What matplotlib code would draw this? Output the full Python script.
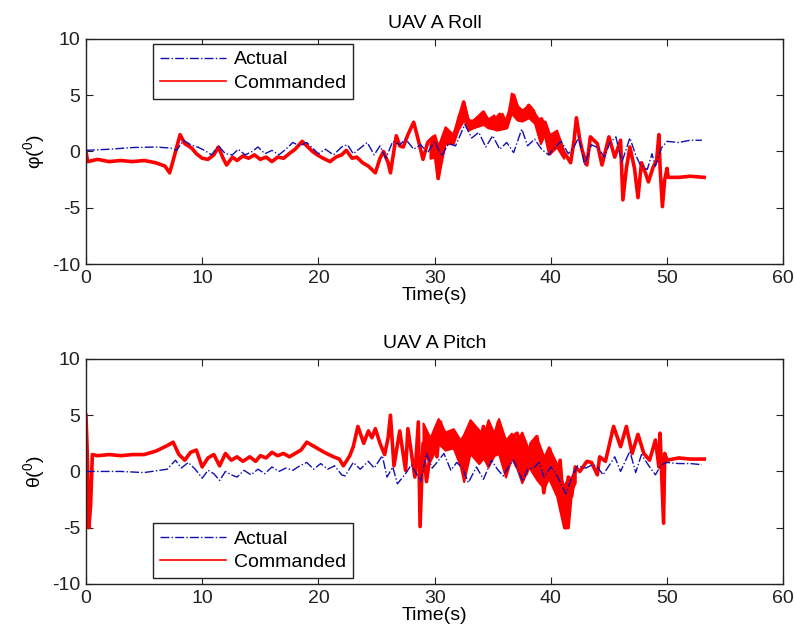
import numpy as np
import matplotlib
matplotlib.use('Agg')
import matplotlib.pyplot as plt

plt.rcParams['font.family'] = ['Liberation Sans', 'DejaVu Sans']
plt.rcParams['mathtext.fontset'] = 'custom'
plt.rcParams['mathtext.rm'] = 'Liberation Sans'
plt.rcParams['mathtext.default'] = 'regular'
plt.rcParams['axes.unicode_minus'] = False

# roll - commanded (t, deg)
roll_cmd_t = [0.0, 0.15, 1, 2, 3, 4, 5, 6, 6.8, 7.2, 7.5, 8.1, 8.5, 9.1, 9.5, 10.0, 10.5, 11.0,
              11.4, 11.8, 12.1, 12.6, 13.0, 13.5, 14.0, 14.5, 15.0, 15.5, 16.0, 16.5, 17.0, 17.6,
              18.0, 18.6, 19.0, 19.5, 19.9, 20.4, 21.0, 21.5, 22.0, 22.4, 22.9, 23.3, 23.8, 24.3,
              24.9, 25.3, 25.6, 26.0, 26.2, 26.7, 27.0, 27.3, 27.7, 28.2, 28.6, 29.0, 29.4, 29.9,
              30.3, 30.6, 31.0, 31.6, 32.0, 32.5, 32.8, 33.1, 33.6, 34.2, 34.6, 34.9, 35.3, 35.6,
              36.0, 36.4, 36.8, 37.1, 37.4, 37.8, 38.1, 38.5, 38.8, 39.2, 39.5, 39.9, 40.2, 40.5,
              40.9, 41.4, 41.7, 42.0, 42.2, 42.5, 42.7, 43.1, 43.4, 44.0, 44.4, 45.0, 45.5, 46.0,
              46.2, 46.5, 46.8, 47.2, 47.5, 47.8, 48.1, 48.4, 48.8, 49.1, 49.3, 49.4, 49.6, 49.8,
              50.0, 50.1, 51.0, 52.0, 53.2]
roll_cmd = [0.0, -0.9, -0.7, -0.9, -0.8, -0.9, -0.8, -1.0, -1.3, -1.9, -0.8, 1.5, 0.7, 0.3, -0.2,
            -0.6, -0.7, -0.3, 0.4, -0.6, -1.2, -0.5, -0.8, -0.4, -0.6, -0.3, -0.7, -0.5, -0.9, -0.5,
            -0.6, -0.1, 0.2, 0.9, 0.5, 0.0, -0.3, -0.6, -0.9, -0.5, -0.3, 0.1, -0.6, -0.5, -1.0,
            -1.3, -1.9, -0.6, 0.0, -1.0, -1.9, 1.4, 0.5, 0.4, 1.5, 2.6, 1.0, -0.7, 0.8, 1.3, -2.4,
            0.5, 1.9, 1.3, 2.5, 4.4, 3.0, 2.4, 2.9, 3.5, 2.6, 2.1, 2.9, 3.3, 2.2, 3.4, 5.0, 4.0,
            2.8, 3.6, 4.1, 3.6, 2.6, 2.9, 1.7, -0.2, 0.6, 1.3, 0.3, -0.5, -1.0, 1.0, 3.0, 1.0, 0.1,
            -1.2, 1.3, 0.7, -1.2, 1.3, -0.5, 1.0, -4.3, -1.5, 0.4, -1.5, -4.1, -1.0, -1.8, -2.7,
            -1.4, -0.8, 1.5, -1.4, -4.9, -2.5, -1.5, -2.3, -2.3, -2.2, -2.3]

# roll - commanded, noise band 30-41 s (upper / lower edge)
roll_band_t = [29.6, 30.0, 30.3, 30.9, 31.6, 32.0, 32.5, 32.9, 33.3, 34.2, 34.6, 35.1, 35.3, 35.8,
               36.2, 36.6, 37.1, 37.5, 38.1, 38.6, 39.1, 39.5, 39.9, 40.5, 41.1]
roll_band_hi = [0.7, 1.5, 0.5, 2.2, 1.5, 3.1, 4.4, 2.8, 2.8, 3.5, 2.9, 3.25, 2.7, 3.4, 2.5, 5.2,
                4.1, 3.7, 4.1, 3.4, 2.7, 2.7, 1.5, 1.9, 0.1]
roll_band_lo = [-0.6, -0.5, -2.4, 0.7, 0.7, 1.9, 2.8, 1.9, 2.1, 2.4, 2.1, 2.0, 1.9, 2.0, 2.1, 3.4,
                2.8, 2.7, 3.0, 2.5, 0.7, 1.6, -0.2, 0.4, -0.6]

# roll - actual
roll_act_t = [0, 2, 4, 6, 7.3, 7.8, 8.4, 9.0, 9.6, 10.2, 10.8, 11.4, 12.0, 12.6, 13.1, 13.7, 14.3,
              14.8, 15.4, 16.0, 16.6, 17.2, 17.8, 18.4, 19.0, 19.5, 20.0, 20.6, 21.3, 22.0, 22.5,
              23.0, 23.6, 24.2, 24.8, 25.3, 25.8, 26.4, 27.0, 27.5, 28.2, 28.8, 29.4, 30.0, 30.6,
              31.2, 31.8, 32.6, 33.2, 33.8, 34.4, 35.0, 35.6, 36.2, 36.8, 37.5, 38.0, 38.6, 39.2,
              39.8, 40.3, 40.9, 41.5, 42.0, 42.4, 42.9, 43.5, 44.1, 44.6, 45.1, 45.6, 46.1, 46.8,
              47.3, 47.7, 48.3, 48.7, 49.0, 49.5, 50.0, 51.0, 52.0, 53.0]
roll_act = [0.1, 0.2, 0.35, 0.4, 0.3, 0.1, 1.0, 0.6, 0.4, 0.1, -0.3, 0.5, -0.2, -0.3, 0.2, -0.3,
            0.0, 0.4, -0.2, 0.1, -0.3, 0.2, 0.8, 0.5, 0.8, 0.3, -0.2, 0.2, -0.3, 0.4, 0.6, -0.2,
            0.3, 0.8, -0.3, 0.5, -0.6, 0.9, 0.6, 1.1, 0.2, 0.6, -0.1, 0.9, -0.4, 0.7, 0.5, 2.4,
            1.2, 1.7, 0.4, 1.4, 0.2, 0.8, -0.1, 2.0, 0.5, 1.1, 0.2, -0.3, 0.3, 0.9, -0.2, 0.4, 1.3,
            -1.2, 0.6, 0.3, -0.5, 0.8, 1.3, -1.0, 1.2, -0.3, -1.2, -1.6, -0.2, -1.3, 0.3, 0.9, 0.8,
            1.0, 1.0]

# pitch - commanded
pitch_cmd_t = [0.0, 0.1, 0.25, 0.4, 0.55, 1, 2, 3, 4, 5, 6, 7.0, 7.5, 8.0, 8.5, 9.0, 9.5, 10.0,
               10.5, 11.0, 11.5, 12.0, 12.5, 13.0, 13.5, 14.1, 14.6, 15.0, 15.5, 16.0, 16.5, 17.0,
               17.5, 18.0, 18.5, 19.0, 19.5, 20.0, 20.5, 21.3, 21.8, 22.15, 22.4, 22.7, 23.0, 23.4,
               23.9, 24.3, 24.6, 24.9, 25.3, 25.7, 26.0, 26.2, 26.5, 27.0, 27.5, 27.7, 28.3, 28.6,
               28.75, 29.0, 29.3, 29.8, 30.2, 30.5, 31.0, 31.6, 32.0, 32.5, 33.1, 33.6, 34.2, 34.8,
               35.5, 36.2, 36.6, 37.1, 37.9, 38.3, 38.8, 39.4, 39.9, 40.2, 40.5, 40.8, 41.1, 41.3,
               41.5, 41.8, 42.1, 42.5, 43.1, 43.5, 44.0, 44.2, 44.7, 45.4, 46.0, 46.5, 47.0, 47.5,
               48.0, 48.5, 49.0, 49.3, 49.4, 49.7, 49.8, 50.0, 51.0, 52.0, 53.2]
pitch_cmd = [5.0, 2.0, -5.0, -3.0, 1.5, 1.4, 1.5, 1.4, 1.5, 1.5, 1.8, 2.3, 2.6, 1.5, 1.0, 1.7, 1.9,
             0.4, 1.2, 1.5, 0.5, 1.6, 1.0, 1.3, 0.9, 1.3, 0.9, 1.4, 1.2, 1.7, 1.4, 1.6, 1.3, 1.6,
             1.9, 2.6, 2.3, 2.0, 1.7, 1.3, 1.1, 0.5, 0.9, 1.4, 2.2, 4.0, 2.5, 3.6, 3.0, 3.8, 2.5,
             1.5, 3.0, 5.0, 0.5, 3.6, 0.1, 3.8, -0.5, 4.4, -4.9, 2.5, -0.9, 2.9, 1.3, 4.4, 2.2, 3.5,
             2.0, 1.3, 3.7, 1.1, 4.0, 1.6, 4.4, 0.5, 3.0, 3.4, -0.2, 2.5, 3.1, -1.9, 2.0, 0.3, -1.0,
             1.0, -3.1, -5.0, -0.5, -2.2, 0.4, 0.0, 0.9, 0.8, -0.3, 1.3, 0.9, 4.0, 2.2, 4.0, 1.6,
             3.3, 1.6, 1.0, 2.8, 0.4, 3.4, -4.6, 1.6, 1.0, 1.2, 1.1, 1.1]

# pitch - commanded, noise band 29-42 s
pitch_band_t = [29.0, 29.6, 30.3, 30.9, 31.6, 32.2, 32.5, 33.05, 33.8, 34.2, 34.6, 35.1, 35.5,
                36.1, 36.6, 37.1, 37.5, 38.1, 38.8, 39.4, 39.8, 40.5, 41.1, 41.5, 41.8, 42.1]
pitch_band_hi = [4.3, 3.0, 4.7, 3.5, 3.8, 2.8, 3.3, 4.6, 3.7, 3.1, 4.6, 3.4, 4.7, 2.8, 3.4, 2.8,
                 3.5, 1.9, 2.95, 1.3, 2.2, 0.7, -1.3, -0.5, -0.5, 0.4]
pitch_band_lo = [1.5, 0.9, 2.5, 1.9, 2.1, 0.5, -0.9, 1.6, 0.7, 1.2, 0.4, 1.4, 1.6, -0.5, 1.2, 0.2,
                 -1.0, 0.4, -0.75, -1.5, -0.6, -2.2, -5.0, -5.0, -1.6, -1.0]

# pitch - actual
pitch_act_t = [0, 3, 5, 7, 7.7, 8.2, 8.8, 9.4, 10.0, 10.5, 11.0, 11.5, 12.0, 12.5, 13.0, 13.6,
               14.2, 14.8, 15.4, 16.0, 16.6, 17.2, 17.8, 18.4, 19.0, 19.6, 20.2, 20.8, 21.4, 22.0,
               22.3, 23.0, 23.6, 24.3, 24.8, 25.5, 25.9, 26.4, 26.8, 27.5, 28.0, 28.8, 29.3, 29.8,
               30.2, 30.8, 31.4, 31.9, 32.4, 32.9, 33.6, 34.2, 34.9, 35.4, 35.9, 36.4, 36.8, 37.6,
               38.0, 38.5, 39.0, 39.4, 40.0, 40.6, 41.3, 41.8, 42.3, 43.0, 43.6, 44.0, 44.5, 45.0,
               45.5, 46.0, 46.8, 47.3, 47.8, 48.5, 49.0, 49.5, 50.0, 51.0, 52.0, 53.0]
pitch_act = [0.0, 0.0, -0.1, 0.2, 1.0, 0.3, 0.8, 0.2, -0.6, 0.1, -0.2, -0.8, 0.0, -0.3, -0.5, 0.1,
             -0.3, 0.2, -0.2, 0.4, 0.0, 0.3, 0.1, 0.5, 0.8, 0.2, 0.7, 0.2, 0.5, -0.3, -0.4, 0.8,
             0.2, 0.9, 0.3, 1.4, -0.5, 0.4, -1.1, -0.2, 0.6, -0.9, 1.6, 0.3, 0.8, 1.6, 0.1, 0.8,
             0.3, -1.0, 0.4, -0.7, 1.0, 0.2, -0.4, 0.5, 1.0, -0.9, 0.2, 0.3, 0.8, -0.5, 0.4, -0.5,
             -2.0, -0.5, 0.5, 0.3, 0.6, 0.4, -0.3, 0.5, 1.3, 0.0, 1.8, -0.1, 1.5, 0.4, -0.3, 0.6,
             0.8, 0.7, 0.7, 0.6]

xticks = [0, 10, 20, 30, 40, 50, 60]
yticks = [-10, -5, 0, 5, 10]

fig = plt.figure(figsize=(7.96, 6.43), dpi=100)
ax1 = fig.add_axes([0.108, 0.5894, 0.876, 0.35])
ax2 = fig.add_axes([0.108, 0.0918, 0.876, 0.35])

panels = [
    (ax1, roll_act_t, roll_act, roll_cmd_t, roll_cmd, roll_band_t, roll_band_lo, roll_band_hi,
     'UAV A Roll', 'φ($^0$)', 'upper left', (0.096, 0.978)),
    (ax2, pitch_act_t, pitch_act, pitch_cmd_t, pitch_cmd, pitch_band_t, pitch_band_lo, pitch_band_hi,
     'UAV A Pitch', 'θ($^0$)', 'lower left', (0.096, 0.027)),
]

red = '#ff0000'
for ax, at, av, ct, cv, bt, blo, bhi, title, ylab, loc, anchor in panels:
    ax.plot(at, av, '-.', color='#1010b0', lw=1.0, label='Actual', zorder=3)
    ax.plot(ct, cv, '-', color=red, lw=2.6, label='Commanded', zorder=2)
    ax.fill_between(bt, blo, bhi, color=red, lw=1.5, edgecolor=red, zorder=2)
    ax.set_xlim(0, 60)
    ax.set_ylim(-10, 10)
    ax.set_xticks(xticks)
    ax.set_yticks(yticks)
    ax.tick_params(direction='in', top=True, right=True, length=5, labelsize=14, pad=4,
                   colors='#222222')
    for s in ax.spines.values():
        s.set_color('#222222')
        s.set_linewidth(1.0)
    ax.set_title(title, fontsize=14, pad=8)
    ax.set_xlabel('Time(s)', fontsize=14, labelpad=0)
    ax.set_ylabel(ylab, fontsize=14, labelpad=4)
    leg = ax.legend(loc=loc, bbox_to_anchor=anchor, fontsize=14, fancybox=False,
                    edgecolor='#222222', framealpha=1, borderaxespad=0, handlelength=3.4,
                    handletextpad=0.4, labelspacing=0.3, borderpad=0.35)
    leg.get_frame().set_linewidth(1.0)
    leg.get_lines()[1].set_linewidth(1.2)

fig.savefig('out.png', dpi=100)
